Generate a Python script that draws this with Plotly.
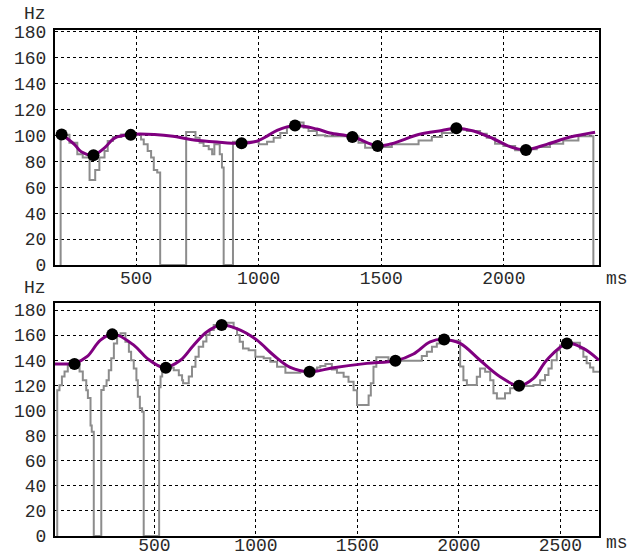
import plotly.graph_objects as go

# ---------------- top panel data ----------------
top_raw_x = [192, 192, 228, 260, 282, 310, 333, 350, 371, 384, 405, 439, 520, 531, 547, 561, 572, 586, 598,
             704, 704, 742, 759, 775, 796, 810, 819, 841, 850, 857,
             895, 895, 1000, 1034, 1061, 1088, 1115, 1142, 1183, 1203, 1237, 1271, 1407, 1434, 1462, 1543,
             1652, 1706, 1747, 1788, 1821, 1849, 1903, 1930, 1964, 1998, 2046, 2093, 2134, 2188, 2242, 2304, 2365]
top_raw_y = [0, 100.5, 94.4, 85.5, 83, 65.6, 73.3, 83, 88, 95.7, 98.8, 100.8, 97, 93.2, 88, 83, 73.3, 71.5, 0,
             0, 102.8, 98.3, 94.4, 91.9, 89.3, 85.5, 93.2, 85.5, 75.3, 0,
             0, 95.2, 93.2, 95.2, 98.3, 102, 106.1, 110, 106, 103.4, 100.3, 99.5, 94.4, 90.6, 91.1, 93.2,
             96.2, 98.8, 102, 105.9, 104.7, 103.4, 101.3, 98.3, 93.7, 91.9, 88.6, 89.3, 91.1, 93.7, 96.2, 99.5, 0]

top_smooth_x = [196, 249, 276, 326, 371, 412, 478, 575, 650, 722, 830, 930, 993, 1034, 1075, 1148, 1237, 1290,
                1382, 1485, 1543, 1652, 1747, 1806, 1876, 1957, 2030, 2090, 2175, 2270, 2372]
top_smooth_y = [101, 93, 87.5, 85, 90.5, 98, 100.8, 100.8, 99.5, 97, 95, 94, 95.7, 99.5, 104, 107.7, 105, 102,
                99, 92, 93.7, 100.8, 103.9, 105.7, 103.5, 97.5, 91, 89, 93.2, 98.8, 102.6]

top_target_x = [196, 326, 478, 930, 1148, 1382, 1485, 1806, 2090]
top_target_y = [100.8, 84.8, 100.5, 94, 107.7, 98.8, 91.9, 105.7, 88.8]

# ---------------- bottom panel data ----------------
bot_raw_x = [21, 21, 32, 44, 57, 73, 98, 131, 147, 164, 172, 185, 191, 201,
             238, 238, 250, 264, 275, 287, 300, 316, 333, 357, 374, 385, 398, 411, 418, 428, 439, 447,
             523, 523, 530, 538, 595, 620, 636, 641, 669, 685, 702, 718, 740, 756, 772, 792, 825, 890, 907,
             920, 936, 964, 997, 1038, 1071, 1104, 1145, 1218, 1251, 1301, 1317, 1342, 1374, 1399, 1432,
             1456, 1481, 1498, 1555, 1566, 1579, 1593, 1653, 1817, 1842, 1867, 1891, 1907, 2006, 2022, 2039,
             2088, 2104, 2129, 2154, 2170, 2187, 2227, 2252, 2285, 2367, 2400, 2424, 2441, 2457, 2482, 2498,
             2531, 2596, 2613, 2629, 2646, 2662, 2690]
bot_raw_y = [0, 116, 120, 127, 131, 136, 138, 131, 124, 116, 110, 88, 83, 0,
             0, 116.2, 119.4, 124, 132, 141.5, 153.4, 160, 161.4, 154.7, 146.8, 140, 133.5, 124, 111, 101.7, 99, 0,
             0, 118.4, 127, 134, 132, 128, 124, 121.6, 127, 134.8, 142.8, 150.7, 155, 160, 164, 168, 169.8, 165.4, 160,
             154.7, 149.4, 148, 142.8, 141.5, 138.8, 134.8, 130, 130.8, 132.7, 134.3, 135.4, 137, 132.7, 130, 126.8,
             122.9, 116, 104.3, 112, 121.6, 134.8, 142.3, 139.6, 143.3, 146.8, 150.7, 153.4, 155.5, 135, 124, 120.2,
             126.8, 133.5, 130.8, 124, 113.6, 109.6, 113.6, 117.6, 119.4, 120.2, 124, 128.2, 133.5, 140, 148, 152,
             153.9, 149.4, 142.8, 137.5, 134.3, 130.8, 130.8]

bot_smooth_x = [10, 60, 106, 169, 234, 300, 398, 464, 546, 628, 693, 759, 831, 923, 1005, 1087, 1169, 1264,
                1382, 1547, 1687, 1776, 1858, 1927, 2006, 2104, 2203, 2296, 2367, 2432, 2532, 2613, 2690]
bot_smooth_y = [137, 137, 137.5, 143, 156, 160.8, 152, 141.5, 134.3, 140, 152, 162.7, 168, 164, 156, 144, 134.3, 130.8,
                134, 137.5, 139.6, 145, 154.7, 156.6, 153.4, 140, 126.9, 119.7, 125.5, 140, 153.4, 149.4, 140]

bot_target_x = [106, 292, 556, 831, 1264, 1687, 1927, 2296, 2532]
bot_target_y = [137, 160.6, 134, 168, 130.8, 139.6, 156.6, 119.7, 153.4]

top_xticks = [500, 1000, 1500, 2000]
bot_xticks = [500, 1000, 1500, 2000, 2500]
yticks = list(range(0, 181, 20))

GRAY = "#8c8c8c"
PURPLE = "#800080"
FONT = "Liberation Mono"
FSIZE = 18
TXT = "#2a2a2a"

fig = go.Figure()

for raw_x, raw_y, sm_x, sm_y, tx, ty, xa, ya in [
    (top_raw_x, top_raw_y, top_smooth_x, top_smooth_y, top_target_x, top_target_y, "x", "y"),
    (bot_raw_x, bot_raw_y, bot_smooth_x, bot_smooth_y, bot_target_x, bot_target_y, "x2", "y2"),
]:
    fig.add_trace(go.Scatter(x=raw_x, y=raw_y, mode="lines", line=dict(color=GRAY, width=2, shape="hv"),
                             xaxis=xa, yaxis=ya, hoverinfo="skip"))
    fig.add_trace(go.Scatter(x=sm_x, y=sm_y, mode="lines", line=dict(color=PURPLE, width=3, shape="spline", smoothing=1.0),
                             xaxis=xa, yaxis=ya))
    fig.add_trace(go.Scatter(x=tx, y=ty, mode="markers", marker=dict(color="black", size=12),
                             xaxis=xa, yaxis=ya))

axis_common = dict(showgrid=True, gridcolor="black", griddash="dot", gridwidth=1,
                   showline=True, linecolor="black", linewidth=2, mirror=True,
                   zeroline=False, ticks="", automargin=False,
                   tickfont=dict(family=FONT, size=FSIZE, color=TXT))

fig.update_layout(
    width=638, height=555,
    margin=dict(l=55, r=39, t=30, b=19),
    plot_bgcolor="white", paper_bgcolor="white",
    showlegend=False,
    font=dict(family=FONT, size=FSIZE, color=TXT),
    xaxis=dict(domain=[0, 1], anchor="y", range=[169, 2388], tickvals=top_xticks, ticklabelstandoff=-5, **axis_common),
    yaxis=dict(domain=[0.5356, 1], anchor="x", range=[0, 181.5], tickvals=yticks, ticklabelstandoff=3, **axis_common),
    xaxis2=dict(domain=[0, 1], anchor="y2", range=[10, 2690], tickvals=bot_xticks, ticklabelstandoff=-9, **axis_common),
    yaxis2=dict(domain=[0, 0.461], anchor="x2", range=[0, 185.8], tickvals=yticks, ticklabelstandoff=3, **axis_common),
)

def ann(text, x, y):
    fig.add_annotation(text=text, xref="paper", yref="paper", x=x, y=y, showarrow=False,
                       font=dict(family=FONT, size=FSIZE, color=TXT), xanchor="center", yanchor="middle")

ann("Hz", -0.037, 1.0316)
ann("Hz", -0.037, 0.49)
ann("ms", 1.033, 0.508)
ann("ms", 1.033, -0.014)

# remove the default page margin so the figure fills the window exactly
fig.write_html("out.html", config={"displayModeBar": False},
               post_script="document.body.style.margin='0px';")
